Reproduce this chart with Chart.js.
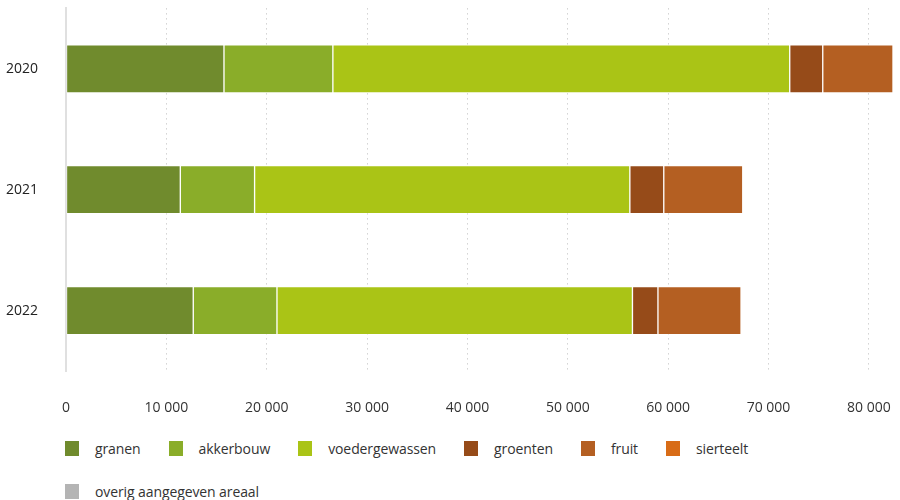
<!DOCTYPE html>
<html>
<head>
<meta charset="utf-8">
<script src="https://cdn.jsdelivr.net/npm/chart.js@4"></script>
<style>
    body { margin: 0; background: #fff; font-family: "Open Sans", sans-serif; }
    #wrap { position: relative; width: 900px; height: 500px; }
    #chartBox { position: absolute; left: 0; top: 0; width: 900px; height: 430px; }
    #legend {
        position: absolute; left: 65px; top: 438px; width: 835px;
        display: flex; flex-wrap: wrap; row-gap: 23px;
        font-size: 14px; color: #333; letter-spacing: -0.1px;
    }
    .item { display: flex; align-items: center; height: 20px; margin-right: 28px; }
    .box { width: 14px; height: 15px; margin-right: 16px; }
</style>
</head>
<body>
<div id="wrap">
    <div id="chartBox"><canvas id="teelten"></canvas></div>
    <div id="legend"></div>
</div>
<script>
// Years (categories)
const years = ['2020', '2021', '2022'];

// Area per crop group, per year
const granen = [15740, 11390, 12680];
const akkerbouw = [10850, 7400, 8340];
const voedergewassen = [45520, 37390, 35420];
const groenten = [3290, 3380, 2540];
const fruit = [7000, 7870, 8280];
const sierteelt = [0, 0, 0];
const overig = [0, 0, 0];

// value axis ticks
const xTicks = [0, 10000, 20000, 30000, 40000, 50000, 60000, 70000, 80000];

const seriesNames = ['granen', 'akkerbouw', 'voedergewassen', 'groenten', 'fruit', 'sierteelt', 'overig aangegeven areaal'];
const seriesData = [granen, akkerbouw, voedergewassen, groenten, fruit, sierteelt, overig];
const seriesColors = ['#708b2d', '#8aad29', '#aac416', '#964b19', '#b45f22', '#d86c17', '#b4b4b4'];

// axis ends at the largest stacked total
const totals = years.map((_, i) => seriesData.reduce((s, arr) => s + arr[i], 0));
const xMax = Math.max(...totals);

const formatNumber = v => String(v).replace(/\B(?=(\d{3})+(?!\d))/g, ' ');

new Chart(document.getElementById('teelten'), {
    type: 'bar',
    data: {
        labels: years,
        datasets: seriesNames.map((name, i) => ({
            label: name,
            data: seriesData[i],
            backgroundColor: seriesColors[i],
            borderColor: 'rgba(255, 255, 255, 0.25)',
            borderWidth: 1,
            borderSkipped: false,
            barThickness: 48
        }))
    },
    options: {
        indexAxis: 'y',
        responsive: true,
        maintainAspectRatio: false,
        animation: false,
        layout: { padding: { top: 8, right: 7, left: 6, bottom: 0 } },
        plugins: {
            legend: { display: false },
            tooltip: { enabled: false }
        },
        scales: {
            x: {
                stacked: true,
                min: 0,
                max: xMax,
                afterBuildTicks: scale => {
                    scale.ticks = xTicks.map(v => ({ value: v }));
                },
                afterFit: scale => { scale.height = 59; },
                ticks: {
                    padding: 0,
                    color: '#333',
                    font: { family: 'Open Sans', size: 14 },
                    callback: v => formatNumber(v)
                },
                grid: {
                    color: '#bbbbbb',
                    drawTicks: true,
                    tickLength: 29,
                    tickColor: 'rgba(0, 0, 0, 0)'
                },
                border: { display: false, dash: [1, 4] }
            },
            y: {
                stacked: true,
                afterFit: scale => { scale.width = 60; },
                ticks: {
                    padding: 0,
                    crossAlign: 'far',
                    color: '#222',
                    font: { family: 'Open Sans', size: 14 }
                },
                grid: { display: false, drawTicks: false },
                border: { display: true, color: '#e0e0e0', width: 2 }
            }
        }
    }
});

// Legend in HTML so spacing matches the reference
const legend = document.getElementById('legend');
seriesNames.forEach((name, i) => {
    const item = document.createElement('div');
    item.className = 'item';
    const box = document.createElement('span');
    box.className = 'box';
    box.style.background = seriesColors[i];
    const text = document.createElement('span');
    text.textContent = name;
    item.appendChild(box);
    item.appendChild(text);
    legend.appendChild(item);
});
</script>
</body>
</html>
